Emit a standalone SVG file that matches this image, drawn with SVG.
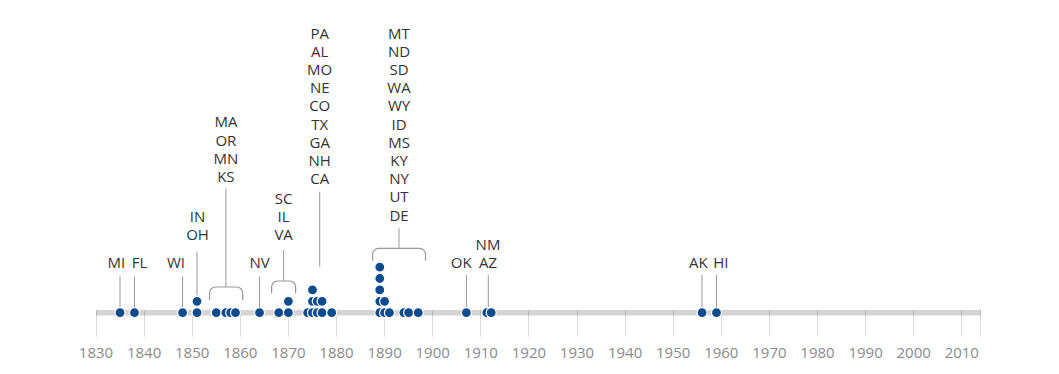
<svg xmlns="http://www.w3.org/2000/svg" width="1059" height="374" viewBox="0 0 1059 374">
<style>
.lbl{font-family:"Open Sans","Noto Sans","Liberation Sans",sans-serif;font-size:15px;fill:#333;text-anchor:middle}
.yr{font-family:"Open Sans","Noto Sans","Liberation Sans",sans-serif;font-size:15px;fill:#8a8a8a;text-anchor:middle}
.tk{stroke:#000;stroke-opacity:0.15;stroke-width:1}
.ld{stroke:#999;stroke-width:1;fill:none}
.br{stroke:#999;stroke-width:1.2;fill:none}
.d{fill:#0c4b8e;stroke:#fff;stroke-width:1.2}
</style>
<rect width="1059" height="374" fill="#fff"/>
<g id="axis">
<rect x="96" y="310" width="885" height="5.5" fill="#d4d4d4"/>
<g>
<line class="tk" x1="96.5" y1="310" x2="96.5" y2="336.5"/>
<line class="tk" x1="144.5" y1="310" x2="144.5" y2="336.5"/>
<line class="tk" x1="192.5" y1="310" x2="192.5" y2="336.5"/>
<line class="tk" x1="240.5" y1="310" x2="240.5" y2="336.5"/>
<line class="tk" x1="288.5" y1="310" x2="288.5" y2="336.5"/>
<line class="tk" x1="336.5" y1="310" x2="336.5" y2="336.5"/>
<line class="tk" x1="384.5" y1="310" x2="384.5" y2="336.5"/>
<line class="tk" x1="432.5" y1="310" x2="432.5" y2="336.5"/>
<line class="tk" x1="480.5" y1="310" x2="480.5" y2="336.5"/>
<line class="tk" x1="528.5" y1="310" x2="528.5" y2="336.5"/>
<line class="tk" x1="577.5" y1="310" x2="577.5" y2="336.5"/>
<line class="tk" x1="625.5" y1="310" x2="625.5" y2="336.5"/>
<line class="tk" x1="673.5" y1="310" x2="673.5" y2="336.5"/>
<line class="tk" x1="721.5" y1="310" x2="721.5" y2="336.5"/>
<line class="tk" x1="769.5" y1="310" x2="769.5" y2="336.5"/>
<line class="tk" x1="817.5" y1="310" x2="817.5" y2="336.5"/>
<line class="tk" x1="865.5" y1="310" x2="865.5" y2="336.5"/>
<line class="tk" x1="913.5" y1="310" x2="913.5" y2="336.5"/>
<line class="tk" x1="961.5" y1="310" x2="961.5" y2="336.5"/>
<line class="tk" x1="980.5" y1="310" x2="980.5" y2="336.5"/>
</g>
<g>
<text class="yr" x="96" y="357.5">1830</text>
<text class="yr" x="144.1" y="357.5">1840</text>
<text class="yr" x="192.2" y="357.5">1850</text>
<text class="yr" x="240.3" y="357.5">1860</text>
<text class="yr" x="288.4" y="357.5">1870</text>
<text class="yr" x="336.5" y="357.5">1880</text>
<text class="yr" x="384.6" y="357.5">1890</text>
<text class="yr" x="432.7" y="357.5">1900</text>
<text class="yr" x="480.8" y="357.5">1910</text>
<text class="yr" x="528.9" y="357.5">1920</text>
<text class="yr" x="577" y="357.5">1930</text>
<text class="yr" x="625.1" y="357.5">1940</text>
<text class="yr" x="673.2" y="357.5">1950</text>
<text class="yr" x="721.3" y="357.5">1960</text>
<text class="yr" x="769.4" y="357.5">1970</text>
<text class="yr" x="817.5" y="357.5">1980</text>
<text class="yr" x="865.6" y="357.5">1990</text>
<text class="yr" x="913.7" y="357.5">2000</text>
<text class="yr" x="961.8" y="357.5">2010</text>
</g>
</g>
<g id="connectors">
<line class="ld" x1="120" y1="276.5" x2="120" y2="307"/>
<line class="ld" x1="134.5" y1="276.5" x2="134.5" y2="307"/>
<line class="ld" x1="182.6" y1="276.5" x2="182.6" y2="307"/>
<line class="ld" x1="197" y1="251.5" x2="197" y2="295.5"/>
<line class="ld" x1="225.9" y1="188.5" x2="225.9" y2="287"/>
<path class="br" d="M209.5,300 V293 A6,6 0 0 1 215.5,287 H236.7 A6,6 0 0 1 242.7,293 V300"/>
<line class="ld" x1="259.5" y1="276.5" x2="259.5" y2="307"/>
<line class="ld" x1="283.6" y1="250" x2="283.6" y2="281"/>
<path class="br" d="M271.6,293.5 V287 A6,6 0 0 1 277.6,281 H289.6 A6,6 0 0 1 295.6,287 V293.5"/>
<line class="ld" x1="319.7" y1="191.7" x2="319.7" y2="266.7"/>
<line class="ld" x1="399" y1="228.3" x2="399" y2="248.3"/>
<path class="br" d="M372.6,260.7 V254.3 A6,6 0 0 1 378.6,248.3 H419.5 A6,6 0 0 1 425.5,254.3 V260.7"/>
<line class="ld" x1="466.4" y1="275" x2="466.4" y2="307"/>
<line class="ld" x1="488.3" y1="275" x2="488.3" y2="307"/>
<line class="ld" x1="702" y1="275" x2="702" y2="307"/>
<line class="ld" x1="716.5" y1="275" x2="716.5" y2="307"/>
</g>
<g id="node-MI"><text class="lbl" x="116.3" y="268">MI</text><circle class="d" cx="120.05" cy="312.7" r="5"/></g>
<g id="node-FL"><text class="lbl" x="139.5" y="268">FL</text><circle class="d" cx="134.48" cy="312.7" r="5"/></g>
<g id="node-WI"><text class="lbl" x="176" y="268">WI</text><circle class="d" cx="182.58" cy="312.7" r="5"/></g>
<g id="node-IN-OH"><text class="lbl" x="197.5" y="222">IN</text><text class="lbl" x="197.5" y="240">OH</text>
<circle class="d" cx="197.01" cy="312.7" r="5"/><circle class="d" cx="197.01" cy="301.3" r="5"/></g>
<g id="node-MA-OR-MN-KS"><text class="lbl" x="225.9" y="127.4">MA</text><text class="lbl" x="225.9" y="145.6">OR</text><text class="lbl" x="225.9" y="163.8">MN</text><text class="lbl" x="225.9" y="182">KS</text>
<circle class="d" cx="216.25" cy="312.7" r="5"/><circle class="d" cx="225.87" cy="312.7" r="5"/><circle class="d" cx="230.68" cy="312.7" r="5"/><circle class="d" cx="235.49" cy="312.7" r="5"/></g>
<g id="node-NV"><text class="lbl" x="259.5" y="268">NV</text><circle class="d" cx="259.54" cy="312.7" r="5"/></g>
<g id="node-SC-IL-VA"><text class="lbl" x="283.6" y="204">SC</text><text class="lbl" x="283.6" y="222">IL</text><text class="lbl" x="283.6" y="240">VA</text>
<circle class="d" cx="278.78" cy="312.7" r="5"/><circle class="d" cx="288.4" cy="312.7" r="5"/><circle class="d" cx="288.4" cy="301.3" r="5"/></g>
<g id="node-PA-CA"><text class="lbl" x="319.7" y="38.5">PA</text><text class="lbl" x="319.7" y="56.7">AL</text><text class="lbl" x="319.7" y="74.9">MO</text><text class="lbl" x="319.7" y="93.1">NE</text><text class="lbl" x="319.7" y="111.3">CO</text><text class="lbl" x="319.7" y="129.5">TX</text><text class="lbl" x="319.7" y="147.7">GA</text><text class="lbl" x="319.7" y="165.9">NH</text><text class="lbl" x="319.7" y="184.1">CA</text>
<circle class="d" cx="307.64" cy="312.7" r="5"/><circle class="d" cx="312.45" cy="312.7" r="5"/><circle class="d" cx="317.26" cy="312.7" r="5"/><circle class="d" cx="322.07" cy="312.7" r="5"/><circle class="d" cx="331.69" cy="312.7" r="5"/>
<circle class="d" cx="312.45" cy="301.3" r="5"/><circle class="d" cx="317.26" cy="301.3" r="5"/><circle class="d" cx="322.07" cy="301.3" r="5"/>
<circle class="d" cx="312.45" cy="289.9" r="5"/></g>
<g id="node-MT-DE"><text class="lbl" x="399" y="38.5">MT</text><text class="lbl" x="399" y="56.7">ND</text><text class="lbl" x="399" y="74.9">SD</text><text class="lbl" x="399" y="93.1">WA</text><text class="lbl" x="399" y="111.3">WY</text><text class="lbl" x="399" y="129.5">ID</text><text class="lbl" x="399" y="147.7">MS</text><text class="lbl" x="399" y="165.9">KY</text><text class="lbl" x="399" y="184.1">NY</text><text class="lbl" x="399" y="202.3">UT</text><text class="lbl" x="399" y="220.5">DE</text>
<circle class="d" cx="379.79" cy="312.7" r="5"/><circle class="d" cx="384.6" cy="312.7" r="5"/><circle class="d" cx="389.41" cy="312.7" r="5"/><circle class="d" cx="403.84" cy="312.7" r="5"/><circle class="d" cx="408.65" cy="312.7" r="5"/><circle class="d" cx="418.27" cy="312.7" r="5"/>
<circle class="d" cx="379.79" cy="301.3" r="5"/><circle class="d" cx="384.6" cy="301.3" r="5"/>
<circle class="d" cx="379.79" cy="289.9" r="5"/><circle class="d" cx="379.79" cy="278.5" r="5"/><circle class="d" cx="379.79" cy="267.1" r="5"/></g>
<g id="node-OK"><text class="lbl" x="461.3" y="267.5">OK</text><circle class="d" cx="466.37" cy="312.7" r="5"/></g>
<g id="node-NM-AZ"><text class="lbl" x="488" y="249.5">NM</text><text class="lbl" x="488" y="267.5">AZ</text>
<circle class="d" cx="486.8" cy="312.7" r="5"/><circle class="d" cx="491.2" cy="312.7" r="5"/></g>
<g id="node-AK"><text class="lbl" x="698.3" y="268">AK</text><circle class="d" cx="702.06" cy="312.7" r="5"/></g>
<g id="node-HI"><text class="lbl" x="720.8" y="268">HI</text><circle class="d" cx="716.49" cy="312.7" r="5"/></g>
</svg>
